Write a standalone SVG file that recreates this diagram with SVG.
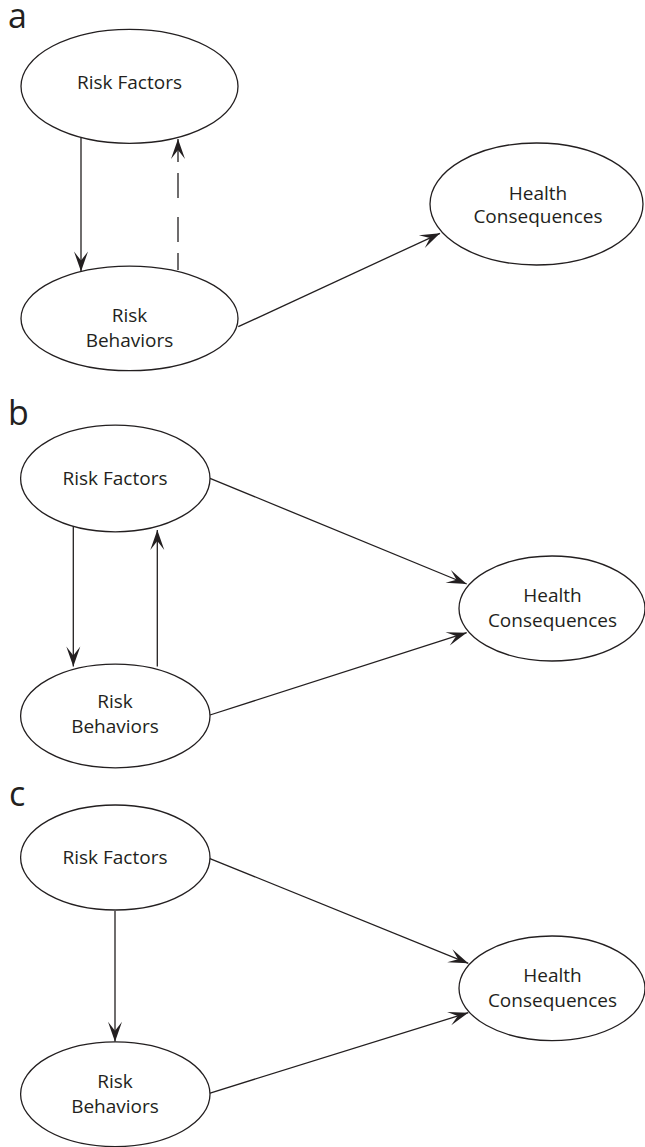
<svg xmlns="http://www.w3.org/2000/svg" width="645" height="1147" viewBox="0 0 645 1147">
<style>
.n{fill:#fff;stroke:#231f20;stroke-width:1.3}
.t{font-family:"Open Sans","Liberation Sans",sans-serif;font-size:19px;fill:#231f20;text-anchor:middle}
.lb{font-family:"Open Sans","Liberation Sans",sans-serif;font-size:34px;fill:#231f20}
.c{fill:none;stroke:#231f20;stroke-width:1.3;marker-end:url(#ah)}
</style>
<defs>
<marker id="ah" viewBox="-21 -8 22 16" refX="0" refY="0" markerWidth="22" markerHeight="16" markerUnits="userSpaceOnUse" orient="auto">
<path d="M0,0 L-20,-7 L-11,0 L-20,7 Z" fill="#231f20"/>
</marker>
</defs>
<rect width="645" height="1147" fill="#fff"/>
<text class="lb" x="8" y="28">a</text>
<text class="lb" x="8" y="425">b</text>
<text class="lb" x="9" y="806">c</text>
<g id="connectors">
<path class="c" d="M81,138 V271.5"/>
<path class="c" d="M178,270 V253 M178,242 V217 M178,198 V173 M178,162 V139"/>
<path class="c" d="M238.3,326.7 L440,233.3"/>
<path class="c" d="M73.3,526 V666.5"/>
<path class="c" d="M157.3,666.5 V530"/>
<path class="c" d="M210,478.3 L466.7,584"/>
<path class="c" d="M210,715 L466.7,632.7"/>
<path class="c" d="M115,911 V1041.7"/>
<path class="c" d="M209.3,858.3 L468.3,963.3"/>
<path class="c" d="M209.3,1093.3 L468.3,1012.7"/>
</g>
<g id="a-risk-factors"><ellipse class="n" cx="129.5" cy="86.3" rx="108.5" ry="57"/><text class="t" x="129.5" y="89">Risk Factors</text></g>
<g id="a-risk-behaviors"><ellipse class="n" cx="129.5" cy="318.4" rx="108.5" ry="52.3"/><text class="t" x="129.5" y="321.7">Risk</text><text class="t" x="129.5" y="346.7">Behaviors</text></g>
<g id="a-health"><ellipse class="n" cx="536.5" cy="204" rx="106.5" ry="61"/><text class="t" x="538" y="200">Health</text><text class="t" x="538" y="223">Consequences</text></g>
<g id="b-risk-factors"><ellipse class="n" cx="115.3" cy="478.5" rx="94.7" ry="53.3"/><text class="t" x="115" y="485">Risk Factors</text></g>
<g id="b-risk-behaviors"><ellipse class="n" cx="115.3" cy="716" rx="94.7" ry="51.8"/><text class="t" x="115" y="708">Risk</text><text class="t" x="115" y="733">Behaviors</text></g>
<g id="b-health"><ellipse class="n" cx="552" cy="608.5" rx="93" ry="52.5"/><text class="t" x="552.5" y="601.7">Health</text><text class="t" x="552.5" y="626.7">Consequences</text></g>
<g id="c-risk-factors"><ellipse class="n" cx="115.3" cy="857.5" rx="94.7" ry="52.5"/><text class="t" x="115" y="864">Risk Factors</text></g>
<g id="c-risk-behaviors"><ellipse class="n" cx="115.3" cy="1094.2" rx="94.7" ry="52.4"/><text class="t" x="115" y="1088.3">Risk</text><text class="t" x="115" y="1113.3">Behaviors</text></g>
<g id="c-health"><ellipse class="n" cx="552" cy="988.3" rx="93" ry="52.3"/><text class="t" x="552.5" y="981.7">Health</text><text class="t" x="552.5" y="1006.7">Consequences</text></g>
</svg>
